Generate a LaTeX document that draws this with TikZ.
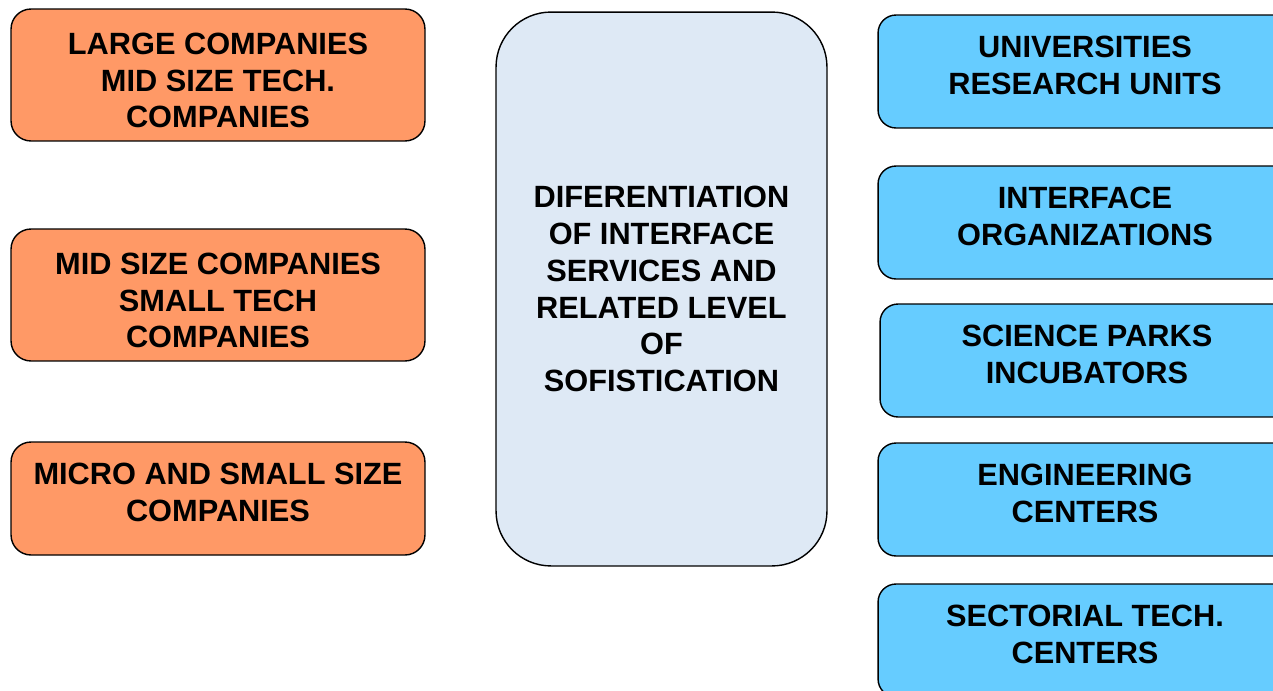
\documentclass[tikz,border=0pt]{standalone}
\usepackage{fontspec}
\setmainfont{Liberation Sans}
\definecolor{firmorange}{RGB}{255,153,102}
\definecolor{orgblue}{RGB}{102,204,255}
\definecolor{midblue}{RGB}{222,233,245}
\tikzset{
  box/.style={draw=black,line width=0.8pt,align=center,inner sep=0pt,
    font=\fontsize{17.5}{21}\selectfont\bfseries},
  firm/.style={box,fill=firmorange,rounded corners=0.4cm,minimum width=8.28cm},
  org/.style={box,fill=orgblue,rounded corners=0.36cm,minimum width=8.28cm,
    minimum height=2.26cm,text depth=6.8pt},
  hub/.style={box,fill=midblue,rounded corners=1.1cm,minimum width=6.62cm,
    minimum height=11.08cm}
}
\begin{document}
\begin{tikzpicture}[x=0.02cm,y=-0.02cm]
      \clip (0,0) rectangle (1273,690);
      \fill[white] (0,0) rectangle (1273,690);
      \node[firm,minimum height=2.64cm,text height=60.4pt] (l1) at (218,75) {LARGE COMPANIES\\MID SIZE TECH.\\COMPANIES};
      \node[firm,minimum height=2.64cm,text height=60.4pt] (l2) at (218,295) {MID SIZE COMPANIES\\SMALL TECH\\COMPANIES};
      \node[firm,minimum height=2.26cm,text depth=6.8pt] (l3) at (218,498.5) {MICRO AND SMALL SIZE\\COMPANIES};
      \node[hub] (c) at (661.5,289) {DIFERENTIATION\\OF INTERFACE\\SERVICES AND\\RELATED LEVEL\\OF\\SOFISTICATION};
      \node[org] (r1) at (1085,71.5) {UNIVERSITIES\\RESEARCH UNITS};
      \node[org] (r2) at (1085,222.5) {INTERFACE\\ORGANIZATIONS};
      \node[org] (r3) at (1087,360.5) {SCIENCE PARKS\\INCUBATORS};
      \node[org] (r4) at (1085,499.5) {ENGINEERING\\CENTERS};
      \node[org] (r5) at (1085,640.5) {SECTORIAL TECH.\\CENTERS};
    \end{tikzpicture}
\end{document}
